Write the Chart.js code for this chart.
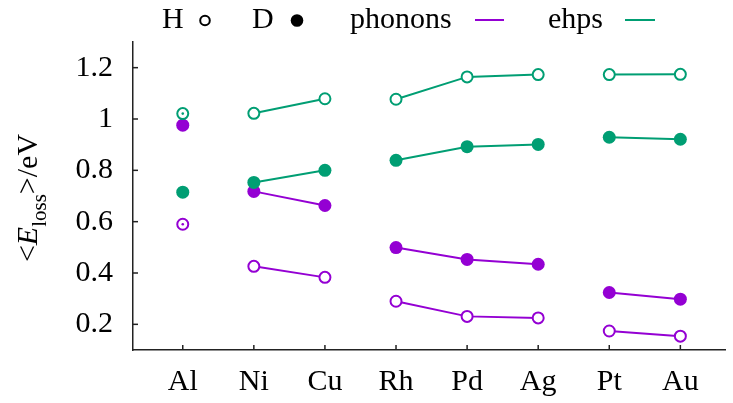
<!DOCTYPE html>
<html><head><meta charset="utf-8">
<script src="https://cdn.jsdelivr.net/npm/chart.js@4/dist/chart.umd.min.js"></script>
<style>html,body{margin:0;padding:0;background:#fff}</style>
</head><body>
<canvas id="c" width="733" height="403" style="width:733px;height:403px;display:block"></canvas>
<script>
const categories = ['Al','Ni','Cu','Rh','Pd','Ag','Pt','Au'];
const groups = [0,1,1,2,2,2,3,3];
const phononsH = [0.590,0.426,0.383,0.290,0.231,0.225,0.174,0.154];
const phononsD = [0.976,0.718,0.663,0.499,0.453,0.434,0.324,0.298];
const ehpsH = [1.021,1.022,1.079,1.077,1.164,1.173,1.173,1.174];
const ehpsD = [0.715,0.753,0.800,0.839,0.892,0.901,0.929,0.921];
const yTicks = [0.2,0.4,0.6,0.8,1.0,1.2];
const legendItems = ['H','D','phonons','ehps'];

const PURPLE = '#9400d3', GREEN = '#009e73', AXIS = '#222';
const FONT = '"Liberation Serif", "Times New Roman", serif';

function pts(arr){ return arr.map((v,i)=>({x:i,y:v})); }
function seg(color){ return { borderColor: ctx => groups[ctx.p0DataIndex]===groups[ctx.p1DataIndex] ? color : 'rgba(0,0,0,0)' }; }
function ds(label, arr, color, open, order){
  return {
    label, data: pts(arr), borderColor: color, borderWidth: 2, segment: seg(color),
    pointStyle: 'circle', pointRadius: open ? 5.5 : 6.5,
    pointBackgroundColor: open ? '#fff' : color, pointBorderColor: color,
    pointBorderWidth: open ? 2 : 0, showLine: true, fill: false, order, _open: open
  };
}

const extras = {
  id: 'extras',
  afterDraw(chart){
    const ctx = chart.ctx, ca = chart.chartArea;
    const xs = chart.scales.x, ys = chart.scales.y;
    ctx.save();
    // inward ticks
    ctx.strokeStyle = AXIS; ctx.lineWidth = 1.5;
    ys.ticks.forEach(t=>{ const y = ys.getPixelForValue(t.value); ctx.beginPath(); ctx.moveTo(ca.left, y); ctx.lineTo(ca.left+5, y); ctx.stroke(); });
    xs.ticks.forEach(t=>{ const x = xs.getPixelForValue(t.value); ctx.beginPath(); ctx.moveTo(x, ca.bottom); ctx.lineTo(x, ca.bottom-5); ctx.stroke(); });
    // centre dots on isolated open points
    chart.data.datasets.forEach((d,di)=>{
      if(!d._open) return;
      const meta = chart.getDatasetMeta(di);
      meta.data.forEach((el,i)=>{
        const g = groups[i];
        if(groups.filter(x=>x===g).length===1){ ctx.fillStyle = d.borderColor; ctx.beginPath(); ctx.arc(el.x, el.y, 1.3, 0, Math.PI*2); ctx.fill(); }
      });
    });
    // legend
    ctx.fillStyle = '#000'; ctx.font = '30px ' + FONT; ctx.textBaseline = 'alphabetic'; ctx.textAlign = 'left';
    ctx.fillText(legendItems[0], 162, 28);
    ctx.fillText(legendItems[1], 252, 28);
    ctx.fillText(legendItems[2], 350, 28);
    ctx.fillText(legendItems[3], 548, 28);
    ctx.strokeStyle = '#000'; ctx.lineWidth = 2;
    ctx.beginPath(); ctx.arc(205, 20.5, 4.8, 0, Math.PI*2); ctx.stroke();
    ctx.fillStyle = '#000'; ctx.beginPath(); ctx.arc(297, 20.5, 6.3, 0, Math.PI*2); ctx.fill();
    ctx.lineWidth = 2;
    ctx.strokeStyle = PURPLE; ctx.beginPath(); ctx.moveTo(475, 20); ctx.lineTo(504, 20); ctx.stroke();
    ctx.strokeStyle = GREEN; ctx.beginPath(); ctx.moveTo(625, 20); ctx.lineTo(655, 20); ctx.stroke();
    // y title
    ctx.translate(37, 198); ctx.rotate(-Math.PI/2);
    ctx.fillStyle = '#000';
    const parts = [
      {t:'<', f:'30px '+FONT, dy:0},
      {t:'E', f:'italic 30px '+FONT, dy:0},
      {t:'loss', f:'21px '+FONT, dy:9},
      {t:'>/eV', f:'30px '+FONT, dy:0}
    ];
    let total = 0;
    parts.forEach(p=>{ ctx.font = p.f; p.w = ctx.measureText(p.t).width; total += p.w; });
    let x = -total/2;
    parts.forEach(p=>{ ctx.font = p.f; ctx.fillText(p.t, x, p.dy); x += p.w; });
    ctx.restore();
  }
};

new Chart(document.getElementById('c'), {
  type: 'line',
  data: { datasets: [
    ds('ehps H', ehpsH, GREEN, true, 0),
    ds('ehps D', ehpsD, GREEN, false, 0),
    ds('phonons H', phononsH, PURPLE, true, 1),
    ds('phonons D', phononsD, PURPLE, false, 1)
  ]},
  options: {
    responsive: false, animation: false, events: [],
    layout: { padding: { top: 42, left: 0, right: 0, bottom: 0 } },
    plugins: { legend: { display: false }, tooltip: { enabled: false }, title: { display: false } },
    scales: {
      x: {
        type: 'linear', min: -0.7, max: 7.635,
        afterBuildTicks: s => { s.ticks = categories.map((c,i)=>({value:i})); },
        afterFit: s => { s.height = 53; },
        grid: { display: false, drawTicks: false },
        border: { display: true, color: AXIS, width: 1.5 },
        ticks: { padding: 14, color: '#000', font: { family: FONT, size: 30 }, callback: v => categories[v], maxRotation: 0, autoSkip: false }
      },
      y: {
        type: 'linear', min: 0.1, max: 1.3,
        afterBuildTicks: s => { s.ticks = yTicks.map(v=>({value:v})); },
        afterFit: s => { s.width = 133; },
        grid: { display: false, drawTicks: false },
        border: { display: true, color: AXIS, width: 1.5 },
        ticks: { padding: 20, color: '#000', font: { family: FONT, size: 30 }, callback: v => String(Math.round(v*10)/10) }
      }
    }
  },
  plugins: [extras]
});
</script>
</body></html>
